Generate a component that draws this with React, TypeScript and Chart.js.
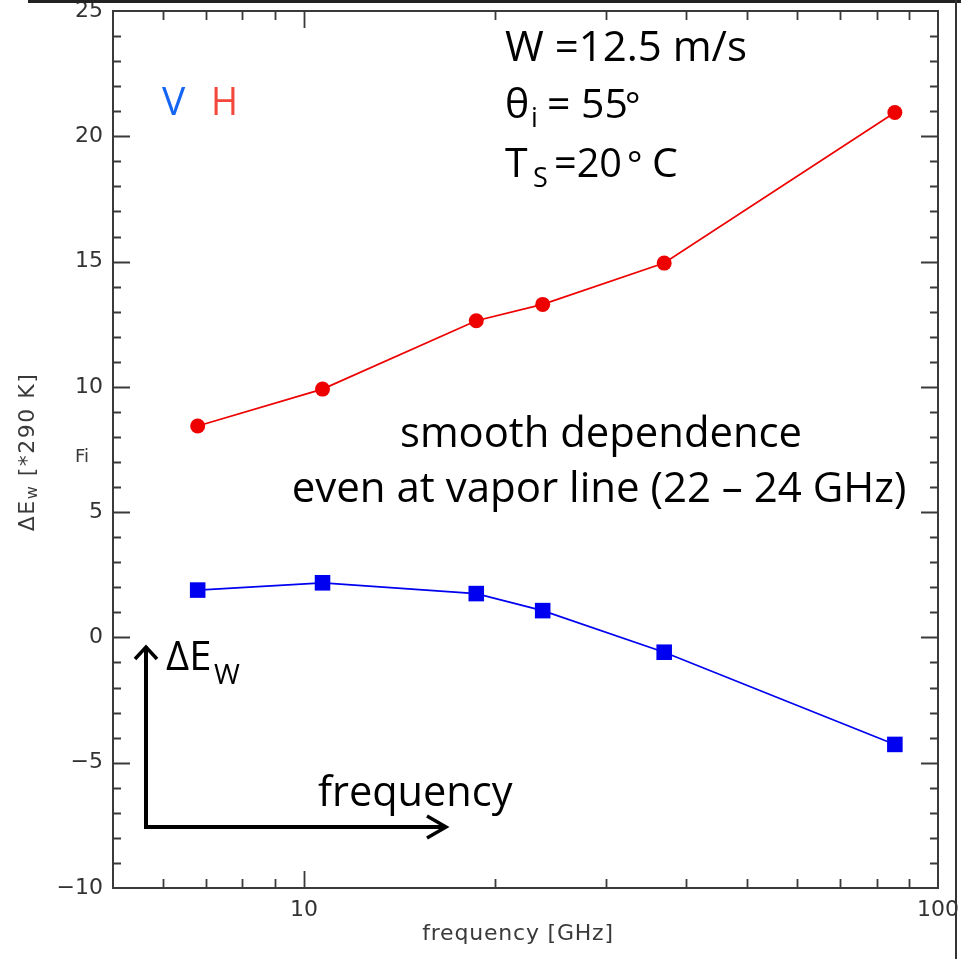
import React, { useEffect, useRef } from 'react';
import { Chart, registerables } from 'chart.js';

Chart.register(...registerables);

// ---- data ----
const frequencies = [6.8, 10.7, 18.7, 23.8, 37, 85.5]; // GHz
const hValues = [8.44, 9.91, 12.64, 13.29, 14.94, 20.95];
const vValues = [1.89, 2.18, 1.75, 1.07, -0.59, -4.27];
const xTickLabels = [10, 100];
const xTickMarks = [6, 7, 8, 9, 10, 20, 30, 40, 50, 60, 70, 80, 90];
const yMin = -10;
const yMax = 25;
const yStep = 5;

const AXIS_FONT = '"DejaVu Sans", sans-serif';
const NOTE_FONT = '"Open Sans", "Noto Sans", sans-serif';
const AXIS_COLOR = '#3a3a3a';

function text(
  ctx: CanvasRenderingContext2D,
  s: string,
  x: number,
  y: number,
  size: number,
  family: string,
  color: string,
  align: CanvasTextAlign = 'left',
  maxWidth?: number,
  spacing = 0
) {
  ctx.font = `${size}px ${family}`;
  (ctx as any).letterSpacing = `${spacing}px`;
  ctx.fillStyle = color;
  ctx.textAlign = align;
  ctx.textBaseline = 'alphabetic';
  if (maxWidth) ctx.fillText(s, x, y, maxWidth);
  else ctx.fillText(s, x, y);
  const w = ctx.measureText(s).width;
  (ctx as any).letterSpacing = '0px';
  return maxWidth ? Math.min(w, maxWidth) : w;
}

const framePlugin = {
  id: 'idlFrame',
  beforeDatasetsDraw(chart: any) {
    const { ctx, chartArea: a, scales } = chart;
    const xs = scales.x;
    const ys = scales.y;
    ctx.save();
    // screenshot edges
    ctx.fillStyle = '#222';
    ctx.fillRect(28, 0, 933, 3);
    ctx.fillStyle = '#333';
    ctx.fillRect(955, 0, 2, 959);

    ctx.strokeStyle = AXIS_COLOR;
    ctx.lineWidth = 2;
    ctx.strokeRect(a.left, a.top, a.right - a.left, a.bottom - a.top);

    ctx.lineWidth = 1.8;
    ctx.beginPath();
    for (let v = yMin + 1; v < yMax; v++) {
      const p = Math.round(ys.getPixelForValue(v)) + 0.5;
      const len = v % yStep === 0 ? 17 : 8;
      ctx.moveTo(a.left, p);
      ctx.lineTo(a.left + len, p);
      ctx.moveTo(a.right, p);
      ctx.lineTo(a.right - len, p);
    }
    for (const v of xTickMarks) {
      const p = Math.round(xs.getPixelForValue(v)) + 0.5;
      const len = v === 10 ? 17 : 9;
      ctx.moveTo(p, a.bottom);
      ctx.lineTo(p, a.bottom - len);
      ctx.moveTo(p, a.top);
      ctx.lineTo(p, a.top + len);
    }
    ctx.stroke();
    ctx.restore();
  },
  afterDraw(chart: any) {
    const { ctx } = chart;
    ctx.save();

    // y-axis title (rotated) with subscript
    const sp = 1.5;
    ctx.translate(34, 452);
    ctx.rotate(-Math.PI / 2);
    (ctx as any).letterSpacing = `${sp}px`;
    ctx.font = `22px ${AXIS_FONT}`;
    const w1 = ctx.measureText('\u0394E').width;
    const w3 = ctx.measureText(' [*290 K]').width;
    ctx.font = `16px ${AXIS_FONT}`;
    const w2 = ctx.measureText('w').width;
    (ctx as any).letterSpacing = '0px';
    let sx = -(w1 + w2 + w3) / 2;
    text(ctx, '\u0394E', sx, 0, 22, AXIS_FONT, AXIS_COLOR, 'left', undefined, sp);
    sx += w1;
    text(ctx, 'w', sx, 3, 16, AXIS_FONT, AXIS_COLOR, 'left', undefined, sp);
    sx += w2;
    text(ctx, ' [*290 K]', sx, 0, 22, AXIS_FONT, AXIS_COLOR, 'left', undefined, sp);
    ctx.setTransform(1, 0, 0, 1, 0, 0);

    text(ctx, 'Fi', 75, 462, 18, AXIS_FONT, AXIS_COLOR);

    // x-axis title
    text(ctx, 'frequency [GHz]', 518, 940, 22, AXIS_FONT, AXIS_COLOR, 'center', 192, 0.8);

    // V / H legend
    text(ctx, 'V', 162, 115, 39, NOTE_FONT, '#1466f2');
    text(ctx, 'H', 211, 115, 39, NOTE_FONT, '#f2473a', 'left', 27);

    // parameters block
    const K = '#000';
    text(ctx, 'W =12.5 m/s', 505, 61, 42, NOTE_FONT, K, 'left', 246);
    text(ctx, '\u03b8', 505, 118, 41, NOTE_FONT, K);
    text(ctx, 'i', 531, 127, 27, NOTE_FONT, K);
    text(ctx, '= 55', 547, 118, 41, NOTE_FONT, K, 'left', 84);
    text(ctx, '\u00b0', 625, 118, 36, NOTE_FONT, K);
    text(ctx, 'T', 505, 177, 41, NOTE_FONT, K);
    text(ctx, 'S', 533, 187, 27, NOTE_FONT, K);
    text(ctx, '=20', 554, 177, 41, NOTE_FONT, K, 'left', 68);
    text(ctx, '\u00b0', 627, 177, 36, NOTE_FONT, K);
    text(ctx, 'C', 652, 177, 41, NOTE_FONT, K);

    // smooth dependence note
    text(ctx, 'smooth dependence', 601, 447, 42, NOTE_FONT, K, 'center', 402);
    text(ctx, 'even at vapor line (22 \u2013 24 GHz)', 599, 502, 42, NOTE_FONT, K, 'center', 622);

    // schematic arrows
    ctx.strokeStyle = '#000';
    ctx.lineWidth = 4;
    ctx.lineJoin = 'miter';
    ctx.beginPath();
    ctx.moveTo(146, 649);
    ctx.lineTo(146, 827);
    ctx.lineTo(444, 827);
    ctx.stroke();
    ctx.lineWidth = 3.5;
    ctx.beginPath();
    ctx.moveTo(135, 659);
    ctx.lineTo(146, 647);
    ctx.lineTo(157, 659);
    ctx.moveTo(427, 816);
    ctx.lineTo(446, 827);
    ctx.lineTo(427, 838);
    ctx.stroke();

    text(ctx, '\u0394E', 166, 670, 40, NOTE_FONT, K, 'left', 48);
    text(ctx, 'W', 214, 684, 28, NOTE_FONT, K);
    text(ctx, 'frequency', 318, 806, 41.5, NOTE_FONT, K, 'left', 195);

    ctx.restore();
  },
};

export default function App() {
  const ref = useRef<HTMLCanvasElement | null>(null);

  useEffect(() => {
    if (!ref.current) return;
    const chart = new Chart(ref.current, {
      type: 'line',
      data: {
        datasets: [
          {
            label: 'H',
            data: frequencies.map((f, i) => ({ x: f, y: hValues[i] })),
            borderColor: '#ee0000',
            backgroundColor: '#ee0000',
            pointBackgroundColor: '#ee0000',
            pointStyle: 'circle',
            pointRadius: 7.5,
            pointBorderWidth: 0,
            borderWidth: 1.7,
            tension: 0,
          },
          {
            label: 'V',
            data: frequencies.map((f, i) => ({ x: f, y: vValues[i] })),
            borderColor: '#0000f0',
            backgroundColor: '#0000f0',
            pointBackgroundColor: '#0000f0',
            pointStyle: 'rect',
            pointRadius: 11,
            pointBorderWidth: 0,
            borderWidth: 1.7,
            tension: 0,
          },
        ],
      },
      options: {
        responsive: false,
        animation: false,
        devicePixelRatio: 1,
        events: [],
        layout: { padding: { top: 10, right: 23, left: 0, bottom: 0 } },
        plugins: {
          legend: { display: false },
          tooltip: { enabled: false },
          title: { display: false },
        },
        scales: {
          x: {
            type: 'logarithmic',
            min: 5,
            max: 100,
            grid: { display: false, drawTicks: false },
            border: { display: false },
            afterBuildTicks: (s: any) => {
              s.ticks = xTickLabels.map((v) => ({ value: v }));
            },
            afterFit: (s: any) => {
              s.height = 71;
              s.paddingLeft = 0;
              s.paddingRight = 0;
              s.paddingTop = 0;
              s.paddingBottom = 0;
            },
            ticks: {
              autoSkip: false,
              maxRotation: 0,
              padding: 9,
              color: '#333',
              font: { family: AXIS_FONT, size: 22 },
              callback: (v: any) => String(v),
            },
          },
          y: {
            type: 'linear',
            min: yMin,
            max: yMax,
            grid: { display: false, drawTicks: false },
            border: { display: false },
            afterFit: (s: any) => {
              s.width = 113;
              s.paddingLeft = 0;
              s.paddingRight = 0;
              s.paddingTop = 0;
              s.paddingBottom = 0;
            },
            ticks: {
              stepSize: yStep,
              padding: 10,
              color: '#333',
              font: { family: AXIS_FONT, size: 22 },
              callback: (v: any) => (v < 0 ? '\u2212' + Math.abs(v) : String(v)),
            },
          },
        },
      } as any,
      plugins: [framePlugin],
    });
    return () => chart.destroy();
  }, []);

  return (
    <div style={{ position: 'absolute', left: 0, top: 0, width: 961, height: 959, background: '#fff' }}>
      <canvas ref={ref} width={961} height={959} style={{ display: 'block' }} />
    </div>
  );
}
